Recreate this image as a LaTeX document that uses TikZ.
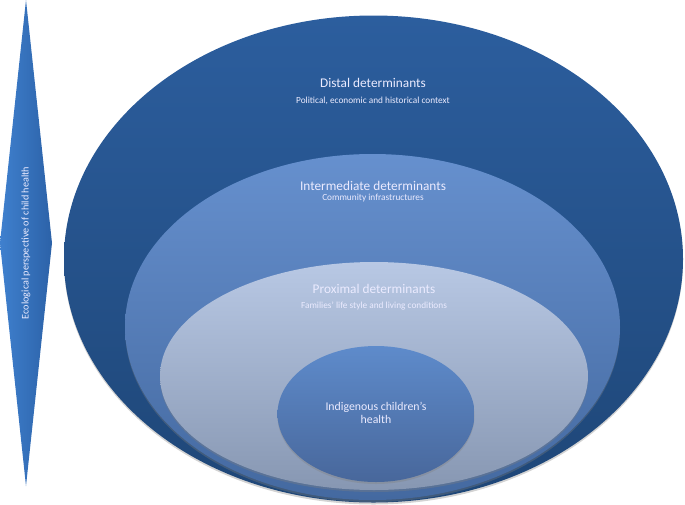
\documentclass[tikz,border=0pt]{standalone}
\usepackage{fontspec}
\setmainfont{Carlito}
\usetikzlibrary{shapes.geometric,shadows}
\definecolor{distT}{HTML}{2C5E9E}
\definecolor{distB}{HTML}{1E4677}
\definecolor{intT}{HTML}{6690CE}
\definecolor{intB}{HTML}{4469A0}
\definecolor{proT}{HTML}{B8C8E4}
\definecolor{proB}{HTML}{8797B2}
\definecolor{inT}{HTML}{5E8BCB}
\definecolor{inB}{HTML}{48679B}
\definecolor{diaL}{HTML}{3F80CE}
\definecolor{diaR}{HTML}{2C62A8}
\tikzset{
  ring/.style={ellipse, inner sep=0pt, draw=none,
    drop shadow={opacity=0.35, shadow xshift=0pt, shadow yshift=-2pt}},
  title/.style={text=white!92!blue, font=\fontsize{13.3}{15}\selectfont, inner sep=0pt},
  sub/.style={text=white!92!blue, font=\fontsize{9.3}{11}\selectfont, inner sep=0pt},
}
\begin{document}
\begin{tikzpicture}[x=1pt,y=-1pt]
\useasboundingbox (0,0) rectangle (685,504);
% diamond
\path[left color=diaL, right color=diaR]
  (26,0) coordinate (dt) -- (52,243) coordinate (dr) -- (26,486) coordinate (db) -- (0,243) coordinate (dl) -- cycle;
\node[rotate=90, text=white!92!blue, font=\fontsize{10.2}{12}\selectfont, inner sep=0pt] (eco) at (26,243) {Ecological perspective of child health};
% ellipses
\node[ring, minimum width=619pt, minimum height=487pt, top color=distT, bottom color=distB] (distal) at (373.5,259) {};
\node[ring, minimum width=495pt, minimum height=346pt, top color=intT, bottom color=intB] (inter) at (372.5,327) {};
\node[ring, minimum width=428pt, minimum height=228pt, top color=proT, bottom color=proB] (prox) at (374,376) {};
\node[ring, minimum width=197pt, minimum height=136pt, top color=inT, bottom color=inB] (core) at (376,414) {};
% texts
\node[title] (t1) at (373,83) {Distal determinants};
\node[sub] (s1) at (373,101) {Political, economic and historical context};
\node[title] (t2) at (373,186) {Intermediate determinants};
\node[sub] (s2) at (373,198) {Community infrastructures};
\node[title] (t3) at (374,289) {Proximal determinants};
\node[sub] (s3) at (374,306) {Families’ life style and living conditions};
\node[sub, font=\fontsize{11.8}{13.5}\selectfont, align=center] (t4) at (376,413) {Indigenous children’s\\health};
\end{tikzpicture}
\end{document}
